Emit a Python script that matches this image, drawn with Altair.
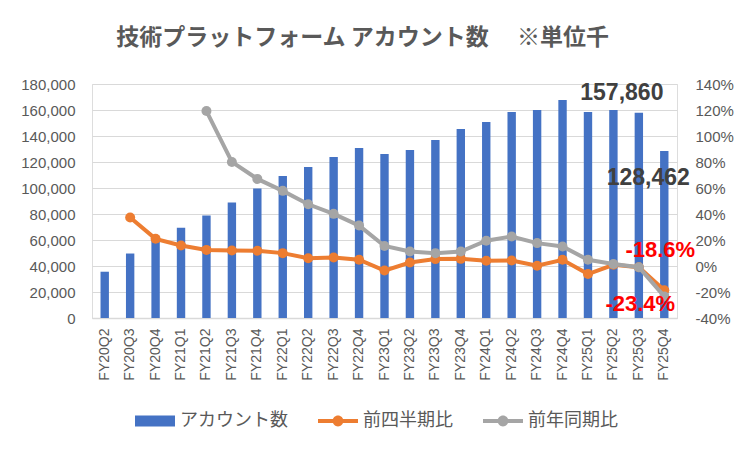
import altair as alt
import pandas as pd

quarters = ["FY20Q2", "FY20Q3", "FY20Q4", "FY21Q1", "FY21Q2", "FY21Q3", "FY21Q4",
            "FY22Q1", "FY22Q2", "FY22Q3", "FY22Q4", "FY23Q1", "FY23Q2", "FY23Q3",
            "FY23Q4", "FY24Q1", "FY24Q2", "FY24Q3", "FY24Q4", "FY25Q1", "FY25Q2",
            "FY25Q3", "FY25Q4"]
accounts = [35600, 49600, 59500, 69400, 78800, 88800, 99600, 109300, 116200, 123900,
            130800, 126200, 129300, 137000, 145400, 150800, 158500, 160000, 167700,
            158500, 160000, 157860, 128462]
qoq_quarters = quarters[1:]
qoq = [37.3, 20.9, 15.8, 12.4, 11.9, 11.7, 9.9, 6.0, 6.5, 4.8, -3.5, 2.7, 5.3, 5.5,
       4.0, 4.2, 0.2, 4.8, -6.2, 0.9, -0.9, -18.6]
yoy_quarters = quarters[4:]
yoy = [119.2, 80.0, 67.0, 57.8, 47.5, 40.1, 31.1, 15.4, 11.1, 9.9, 11.1, 19.4, 22.7,
       17.6, 15.0, 4.8, 1.5, -0.9, -23.4]
series_names = ["アカウント数", "前四半期比", "前年同期比"]
series_colors = ["#4472C4", "#ED7D31", "#A5A5A5"]
left_ticks = [0, 20000, 40000, 60000, 80000, 100000, 120000, 140000, 160000, 180000]
right_ticks = [-40, -20, 0, 20, 40, 60, 80, 100, 120, 140]
title_text = "技術プラットフォーム アカウント数\u3000 ※単位千"

bars_df = pd.DataFrame({"q": quarters, "accounts": accounts, "series": series_names[0]})
qoq_df = pd.DataFrame({"q": qoq_quarters, "pct": qoq, "series": series_names[1]})
yoy_df = pd.DataFrame({"q": yoy_quarters, "pct": yoy, "series": series_names[2]})

JP = "Noto Sans CJK JP"
NUM = "Liberation Sans"
GREY_TXT = "#595959"

x_enc = alt.X("q:N", sort=quarters,
              scale=alt.Scale(domain=quarters, paddingInner=0.67, paddingOuter=0.335),
              axis=alt.Axis(title=None, labelAngle=270, labelFontSize=14, labelFont=NUM,
                            labelColor=GREY_TXT, ticks=False, domainColor="#D9D9D9",
                            domainWidth=1.5, labelPadding=10))

left_axis = alt.Axis(title=None, values=left_ticks, format=",d", grid=True,
                     gridColor="#D9D9D9", gridWidth=1.2, domain=False, ticks=False,
                     labelPadding=17, labelFontSize=15, labelFont=NUM, labelColor=GREY_TXT)
left_scale = alt.Scale(domain=[0, 180000], nice=False, zero=True)

right_axis = alt.Axis(title=None, values=right_ticks, labelExpr="datum.value + '%'",
                      grid=False, domain=False, ticks=False, orient="right",
                      labelPadding=18, labelFontSize=15, labelFont=NUM, labelColor=GREY_TXT)
right_scale = alt.Scale(domain=[-40, 140], nice=False, zero=False)

bar_path = "M-1,-0.28H1V0.28H-1Z"
line_path = ("M-1,-0.1H1V0.1H-1Z M0.27,0A0.27,0.27 0 1,1 -0.27,0"
             "A0.27,0.27 0 1,1 0.27,0Z")


def make_legend(x, shape, fill):
    return alt.Legend(orient="none", legendX=x, legendY=317, title=None,
                      labelFontSize=18, labelFont=JP, labelColor=GREY_TXT,
                      symbolSize=1600, labelOffset=5, symbolType=shape,
                      symbolFillColor=fill, symbolStrokeWidth=0, symbolOpacity=1)


bars = alt.Chart(bars_df).mark_bar().encode(
    x=x_enc,
    y=alt.Y("accounts:Q", scale=left_scale, axis=left_axis),
    color=alt.Color("series:N", scale=alt.Scale(domain=[series_names[0]],
                                                range=[series_colors[0]]),
                    legend=make_legend(43, bar_path, series_colors[0])),
)

bar_lbl_a = alt.Chart(bars_df).transform_filter(alt.datum.q == "FY25Q3").mark_text(
    font=NUM, fontSize=23, fontWeight="bold", color="#404040", dx=-17, dy=-20,
    baseline="middle").encode(
    x=x_enc, y=alt.Y("accounts:Q", scale=left_scale, axis=left_axis),
    text=alt.Text("accounts:Q", format=","))

bar_lbl_b = alt.Chart(bars_df).transform_filter(alt.datum.q == "FY25Q4").mark_text(
    font=NUM, fontSize=23, fontWeight="bold", color="#404040", dx=-16, dy=27,
    baseline="middle").encode(
    x=x_enc, y=alt.Y("accounts:Q", scale=left_scale, axis=left_axis),
    text=alt.Text("accounts:Q", format=","))

line_qoq = alt.Chart(qoq_df).mark_line(
    strokeWidth=4, point=alt.OverlayMarkDef(filled=True, size=100)).encode(
    x=x_enc, y=alt.Y("pct:Q", scale=right_scale, axis=right_axis),
    color=alt.Color("series:N", scale=alt.Scale(domain=[series_names[1]],
                                                range=[series_colors[1]]),
                    legend=make_legend(226, line_path, series_colors[1])))

line_yoy = alt.Chart(yoy_df).mark_line(
    strokeWidth=4, point=alt.OverlayMarkDef(filled=True, size=100)).encode(
    x=x_enc, y=alt.Y("pct:Q", scale=right_scale, axis=right_axis),
    color=alt.Color("series:N", scale=alt.Scale(domain=[series_names[2]],
                                                range=[series_colors[2]]),
                    legend=make_legend(391, line_path, series_colors[2])))

pct_label = "replace(format(datum.pct, '.1f'), '\u2212', '-') + '%'"

lbl_qoq = alt.Chart(qoq_df).transform_filter(alt.datum.q == "FY25Q4").transform_calculate(
    label=pct_label).mark_text(
    font=NUM, fontSize=22, fontWeight="bold", color="#FF0000", dx=-4, dy=-40,
    baseline="middle").encode(
    x=x_enc, y=alt.Y("pct:Q", scale=right_scale, axis=right_axis), text="label:N")

lbl_yoy = alt.Chart(yoy_df).transform_filter(alt.datum.q == "FY25Q4").transform_calculate(
    label=pct_label).mark_text(
    font=NUM, fontSize=22, fontWeight="bold", color="#FF0000", dx=-24, dy=8,
    baseline="middle").encode(
    x=x_enc, y=alt.Y("pct:Q", scale=right_scale, axis=right_axis), text="label:N")

left = alt.layer(bars, bar_lbl_a, bar_lbl_b)
right = alt.layer(line_qoq, line_yoy, lbl_qoq, lbl_yoy).resolve_scale(color="independent")

chart = alt.layer(left, right).resolve_scale(y="independent", color="independent").properties(
    width=585, height=234,
    title=alt.TitleParams(title_text, fontSize=23, font=JP, fontWeight="bold",
                          color=GREY_TXT, offset=27, dx=-22, anchor="middle"),
    autosize=alt.AutoSizeParams(type="none"),
    padding={"left": 84, "top": 76, "right": 67, "bottom": 126},
).configure_view(stroke=None).configure(background="white")

chart.save("out.html", embed_options={"renderer": "svg", "actions": False})
